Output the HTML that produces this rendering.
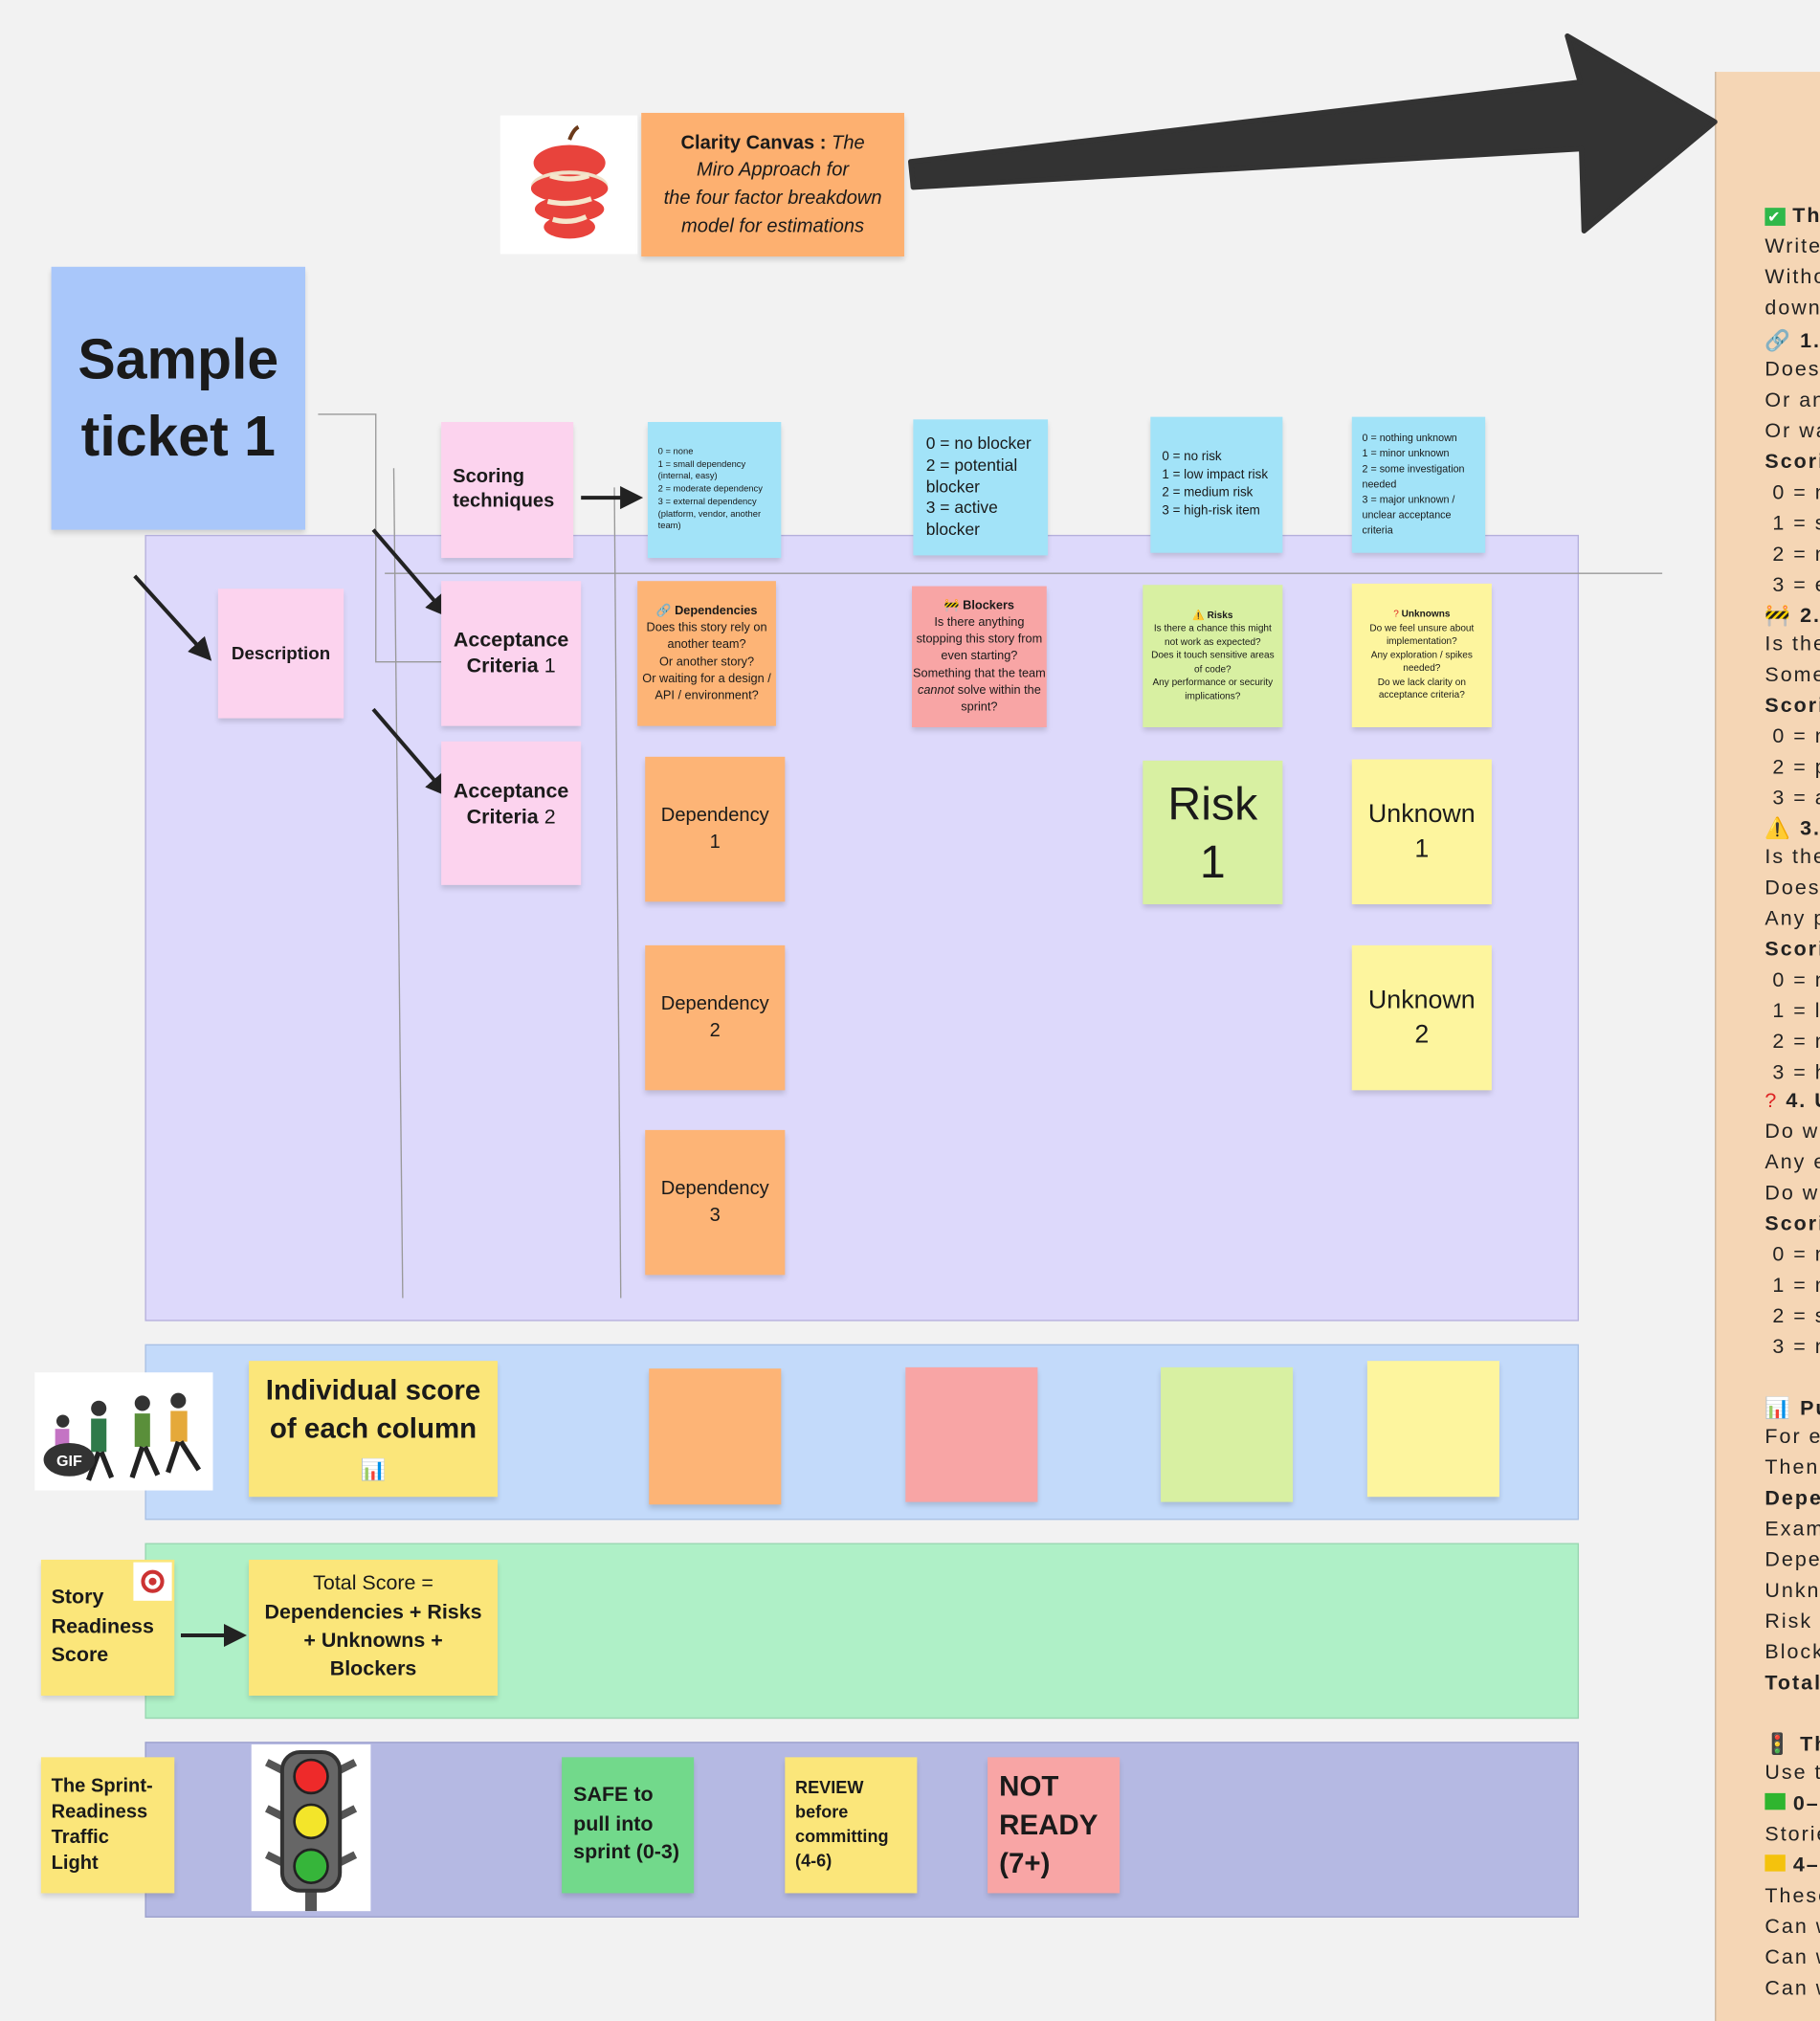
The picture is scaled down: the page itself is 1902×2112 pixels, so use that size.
<!DOCTYPE html>
<html><head><meta charset="utf-8">
<style>
*{margin:0;padding:0;box-sizing:border-box}
html,body{width:1902px;height:2102px;overflow:hidden;background:#f2f2f2}
#w{position:absolute;left:0;top:0;width:1419px;height:1568px;transform:scale(1.3404);transform-origin:0 0;font-family:"Liberation Sans","Noto Sans CJK SC",sans-serif;color:#1a1a1a}
.a{position:absolute}
.s{position:absolute;box-shadow:0 3px 4px rgba(0,0,0,.15);display:flex;align-items:center;justify-content:center;text-align:center;line-height:1.25}
.pk{background:#fcd3ee}.bl{background:#a2e3f8}.or{background:#fdb476}.rd{background:#f8a5a5}.gr{background:#d8f0a2}.ye{background:#fdf59e}.y2{background:#fbe67a}
.fr{position:absolute;left:113px;width:1118px}
#rp{position:absolute;left:1337px;top:56px;width:90px;height:1520px;background:#f5d6b5;border-left:1.5px solid #c9b49c;overflow:hidden}
#rp div{position:absolute;left:38px;white-space:nowrap;font-size:16px;letter-spacing:1.5px;color:#222}
b{font-weight:bold}
</style></head><body><div id="w">

<div id="rp">
<div style="top:104px"><span style="background:#2fb84a;color:#fff;font-size:12px;padding:0 2px">✔</span> <b>The</b></div>
<div style="top:128px">Write</div><div style="top:152px">Withou</div><div style="top:176px">down</div>
<div style="top:200px">🔗 <b>1. D</b></div><div style="top:224px">Does t</div><div style="top:248px">Or and</div><div style="top:272px">Or wa</div>
<div style="top:296px"><b>Scorin</b></div><div style="top:320px">&nbsp;0 = no</div><div style="top:344px">&nbsp;1 = sn</div><div style="top:368px">&nbsp;2 = m</div><div style="top:392px">&nbsp;3 = ex</div>
<div style="top:414px">🚧 <b>2. B</b></div><div style="top:438px">Is ther</div><div style="top:462px">Somet</div><div style="top:486px"><b>Scorin</b></div>
<div style="top:510px">&nbsp;0 = no</div><div style="top:534px">&nbsp;2 = po</div><div style="top:558px">&nbsp;3 = ac</div>
<div style="top:580px">⚠️ <b>3. R</b></div><div style="top:604px">Is ther</div><div style="top:628px">Does i</div><div style="top:652px">Any pe</div><div style="top:676px"><b>Scorin</b></div>
<div style="top:700px">&nbsp;0 = no</div><div style="top:724px">&nbsp;1 = lo</div><div style="top:748px">&nbsp;2 = m</div><div style="top:772px">&nbsp;3 = hi</div>
<div style="top:794px"><span style="color:#d22">?</span> <b>4. U</b></div><div style="top:818px">Do we</div><div style="top:842px">Any ex</div><div style="top:866px">Do we</div><div style="top:890px"><b>Scorin</b></div>
<div style="top:914px">&nbsp;0 = no</div><div style="top:938px">&nbsp;1 = m</div><div style="top:962px">&nbsp;2 = so</div><div style="top:986px">&nbsp;3 = m</div>
<div style="top:1032px">📊 <b>Put</b></div><div style="top:1056px">For ea</div><div style="top:1080px">Then t</div><div style="top:1104px"><b>Depen</b></div>
<div style="top:1128px">Examp</div><div style="top:1152px">Depen</div><div style="top:1176px">Unkno</div><div style="top:1200px">Risk —</div><div style="top:1224px">Blocke</div><div style="top:1248px"><b>Total</b></div>
<div style="top:1294px">🚦 <b>The</b></div><div style="top:1318px">Use th</div>
<div style="top:1342px"><span style="display:inline-block;width:16px;height:13px;background:#2fb52f"></span> <b>0–3</b></div><div style="top:1366px">Storie</div>
<div style="top:1390px"><span style="display:inline-block;width:16px;height:13px;background:#f4c20d"></span> <b>4–6</b></div>
<div style="top:1414px">These</div><div style="top:1438px">Can w</div><div style="top:1462px">Can w</div><div style="top:1486px">Can w</div>
</div>

<svg class="a" style="left:0;top:0" width="1419" height="1568">
<polygon points="710,126 1232,64 1222,28 1337,95 1235,180 1233,116 712,146" fill="#333" stroke="#333" stroke-width="4" stroke-linejoin="round"/>
</svg>

<div class="a" style="left:390px;top:90px;width:107px;height:108px;background:#fff;display:flex;align-items:center;justify-content:center">
<svg width="70" height="95" viewBox="0 0 70 95"><path d="M35 12 Q38 4 42 2" stroke="#6b3a1a" stroke-width="3" fill="none"/>
<ellipse cx="35" cy="30" rx="28" ry="14" fill="#e8433c"/><ellipse cx="35" cy="48" rx="30" ry="12" fill="#f0e0c8"/><ellipse cx="35" cy="50" rx="30" ry="11" fill="#e8433c"/><ellipse cx="35" cy="66" rx="27" ry="10" fill="#e8433c"/><ellipse cx="35" cy="80" rx="20" ry="9" fill="#e8433c"/><path d="M20 40 Q35 45 50 40" stroke="#f5e6cc" stroke-width="4" fill="none"/><path d="M18 60 Q35 64 52 58" stroke="#f5e6cc" stroke-width="4" fill="none"/><path d="M22 74 Q35 78 48 72" stroke="#f5e6cc" stroke-width="4" fill="none"/></svg></div>
<div class="s" style="left:500px;top:88px;width:205px;height:112px;background:#fdb070;font-size:15px;line-height:1.45"><div><b>Clarity Canvas :</b> <i>The<br>Miro Approach for<br>the four factor breakdown<br>model for estimations</i></div></div>

<div class="s" style="left:40px;top:208px;width:198px;height:205px;background:#a9c7fa;font-size:44px;font-weight:bold;line-height:1.35">Sample<br>ticket 1</div>

<div class="fr" style="top:417px;height:613px;background:#ddd9fb;border:1px solid #b5b0dc"></div>
<div class="fr" style="top:1048px;height:137px;background:#c3dafa;border:1px solid #a9c0e4"></div>
<div class="fr" style="top:1203px;height:137px;background:#aff0c7;border:1px solid #98d6b0"></div>
<div class="fr" style="top:1358px;height:137px;background:#b5b9e3;border:1px solid #9ca0cc"></div>

<svg class="a" style="left:0;top:0" width="1419" height="1568">
<defs><marker id="m" markerWidth="6" markerHeight="6" refX="4.5" refY="3" orient="auto"><path d="M0,0 L6,3 L0,6 z" fill="#222"/></marker></defs>
<g stroke="#999" stroke-width="1" fill="none">
<line x1="300" y1="447" x2="1296" y2="447"/>
<line x1="307" y1="365" x2="314" y2="1012"/>
<line x1="479" y1="380" x2="484" y2="1012"/>
<polyline points="248,323 293,323 293,516 345,516"/>
</g>
<g stroke="#222" stroke-width="3" marker-end="url(#m)">
<line x1="105" y1="449" x2="162" y2="512"/>
<line x1="291" y1="413" x2="347" y2="478"/>
<line x1="291" y1="553" x2="347" y2="618"/>
<line x1="453" y1="388" x2="497" y2="388"/>
<line x1="141" y1="1275" x2="188" y2="1275"/>
</g>
</svg>

<div class="s pk" style="left:344px;top:329px;width:103px;height:106px;font-size:15px;font-weight:bold;justify-content:flex-start;padding-left:9px;text-align:left">Scoring<br>techniques</div>
<div class="s bl" style="left:505px;top:329px;width:104px;height:106px;font-size:7px;text-align:left;justify-content:flex-start;padding:0 8px;line-height:1.4">0 = none<br>1 = small dependency (internal, easy)<br>2 = moderate dependency<br>3 = external dependency (platform, vendor, another team)</div>
<div class="s bl" style="left:712px;top:327px;width:105px;height:106px;font-size:13px;text-align:left;justify-content:flex-start;padding:0 10px;line-height:1.3">0 = no blocker<br>2 = potential blocker<br>3 = active blocker</div>
<div class="s bl" style="left:897px;top:325px;width:103px;height:106px;font-size:10px;text-align:left;justify-content:flex-start;padding:0 9px;line-height:1.4">0 = no risk<br>1 = low impact risk<br>2 = medium risk<br>3 = high-risk item</div>
<div class="s bl" style="left:1054px;top:325px;width:104px;height:106px;font-size:8px;text-align:left;justify-content:flex-start;padding:0 8px;line-height:1.5">0 = nothing unknown<br>1 = minor unknown<br>2 = some investigation needed<br>3 = major unknown / unclear acceptance criteria</div>

<div class="s pk" style="left:170px;top:459px;width:98px;height:101px;font-size:14px;font-weight:bold">Description</div>
<div class="s pk" style="left:344px;top:453px;width:109px;height:113px;font-size:16px"><div><b>Acceptance<br>Criteria</b> 1</div></div>
<div class="s pk" style="left:344px;top:578px;width:109px;height:112px;font-size:16px;padding-bottom:12px"><div><b>Acceptance<br>Criteria</b> 2</div></div>

<div class="s or" style="left:497px;top:453px;width:108px;height:113px;font-size:9.5px;line-height:1.4"><div>🔗 <b>Dependencies</b><br>Does this story rely on another team?<br>Or another story?<br>Or waiting for a design / API / environment?</div></div>
<div class="s rd" style="left:711px;top:457px;width:105px;height:110px;font-size:9.5px;line-height:1.38"><div>🚧 <b>Blockers</b><br>Is there anything stopping this story from even starting? Something that the team <i>cannot</i> solve within the sprint?</div></div>
<div class="s gr" style="left:891px;top:456px;width:109px;height:111px;font-size:7.5px;line-height:1.4;padding:0 6px"><div>⚠️ <b>Risks</b><br>Is there a chance this might not work as expected?<br>Does it touch sensitive areas of code?<br>Any performance or security implications?</div></div>
<div class="s ye" style="left:1054px;top:455px;width:109px;height:112px;font-size:7.5px;line-height:1.4;padding:0 6px"><div><span style="color:#d22">?</span> <b>Unknowns</b><br>Do we feel unsure about implementation?<br>Any exploration / spikes needed?<br>Do we lack clarity on acceptance criteria?</div></div>

<div class="s or" style="left:503px;top:590px;width:109px;height:113px;font-size:15px;line-height:1.35">Dependency<br>1</div>
<div class="s or" style="left:503px;top:737px;width:109px;height:113px;font-size:15px;line-height:1.35">Dependency<br>2</div>
<div class="s or" style="left:503px;top:881px;width:109px;height:113px;font-size:15px;line-height:1.35">Dependency<br>3</div>
<div class="s gr" style="left:891px;top:593px;width:109px;height:112px;font-size:36px;line-height:1.25">Risk<br>1</div>
<div class="s ye" style="left:1054px;top:592px;width:109px;height:113px;font-size:20px;line-height:1.35">Unknown<br>1</div>
<div class="s ye" style="left:1054px;top:737px;width:109px;height:113px;font-size:20px;line-height:1.35">Unknown<br>2</div>

<div class="a" style="left:27px;top:1070px;width:139px;height:92px;background:#fff"><svg width="139" height="92"><g fill="#333"><circle cx="50" cy="28" r="6"/><rect x="44" y="36" width="12" height="26" fill="#2f7a4a"/><circle cx="84" cy="24" r="6"/><rect x="78" y="32" width="12" height="26" fill="#5a8f3a"/><circle cx="112" cy="22" r="6"/><rect x="106" y="30" width="13" height="24" fill="#e5a93a"/><circle cx="22" cy="38" r="5"/><rect x="16" y="44" width="11" height="22" fill="#c474c4"/><path d="M50 62 L42 84 M52 62 L60 82 M84 58 L76 82 M86 58 L96 80 M112 54 L104 78 M114 54 L128 76" stroke="#222" stroke-width="4"/></g><ellipse cx="27" cy="68" rx="20" ry="13" fill="#333"/><text x="27" y="73" font-size="12" font-weight="bold" fill="#fff" text-anchor="middle" font-family="Liberation Sans">GIF</text></svg></div>
<div class="s y2" style="left:194px;top:1061px;width:194px;height:106px;font-size:22px;font-weight:bold;line-height:1.35"><div>Individual score<br>of each column<br><span style="font-size:16px">📊</span></div></div>
<div class="s" style="left:506px;top:1067px;width:103px;height:106px;background:#fdb476"></div>
<div class="s" style="left:706px;top:1066px;width:103px;height:105px;background:#f8a5a5"></div>
<div class="s" style="left:905px;top:1066px;width:103px;height:105px;background:#d8f0a2"></div>
<div class="s" style="left:1066px;top:1061px;width:103px;height:106px;background:#fdf59e"></div>

<div class="s y2" style="left:32px;top:1216px;width:104px;height:106px;font-size:16px;font-weight:bold;justify-content:flex-start;text-align:left;padding-left:8px;line-height:1.4">Story<br>Readiness<br>Score</div>
<div class="a" style="left:104px;top:1218px;width:30px;height:30px;background:#fff;display:flex;align-items:center;justify-content:center"><div style="width:18px;height:18px;border-radius:50%;border:3px solid #c33;box-shadow:inset 0 0 0 3px #fff,inset 0 0 0 6px #c33"></div></div>
<div class="s y2" style="left:194px;top:1216px;width:194px;height:106px;font-size:16px;line-height:1.4"><div>Total Score =<br><b>Dependencies + Risks<br>+ Unknowns +<br>Blockers</b></div></div>

<div class="s y2" style="left:32px;top:1370px;width:104px;height:106px;font-size:15px;font-weight:bold;justify-content:flex-start;text-align:left;padding-left:8px;line-height:1.35">The Sprint-<br>Readiness<br>Traffic<br>Light</div>
<div class="a" style="left:196px;top:1360px;width:93px;height:130px;background:#fff"><svg width="93" height="130"><rect x="42" y="112" width="9" height="18" fill="#555"/><path d="M12 14 L24 20 M12 50 L24 56 M12 86 L24 92 M81 14 L69 20 M81 50 L69 56 M81 86 L69 92" stroke="#555" stroke-width="6"/><rect x="24" y="6" width="45" height="108" rx="14" fill="#666" stroke="#333" stroke-width="3"/><circle cx="46.5" cy="25" r="13" fill="#ee2a2a" stroke="#222" stroke-width="2"/><circle cx="46.5" cy="60" r="13" fill="#f3e52a" stroke="#222" stroke-width="2"/><circle cx="46.5" cy="95" r="13" fill="#36b53a" stroke="#222" stroke-width="2"/></svg></div>
<div class="s" style="left:438px;top:1370px;width:103px;height:106px;background:#72d98b;font-size:16px;font-weight:bold;justify-content:flex-start;text-align:left;padding-left:9px;line-height:1.4">SAFE to<br>pull into<br>sprint (0-3)</div>
<div class="s" style="left:612px;top:1370px;width:103px;height:106px;background:#fbe67a;font-size:13.5px;font-weight:bold;justify-content:flex-start;text-align:left;padding-left:8px;line-height:1.4">REVIEW<br>before<br>committing<br>(4-6)</div>
<div class="s" style="left:770px;top:1370px;width:103px;height:106px;background:#f8a5a5;font-size:22px;font-weight:bold;justify-content:flex-start;text-align:left;padding-left:9px;line-height:1.35">NOT<br>READY<br>(7+)</div>

</div></body></html>
